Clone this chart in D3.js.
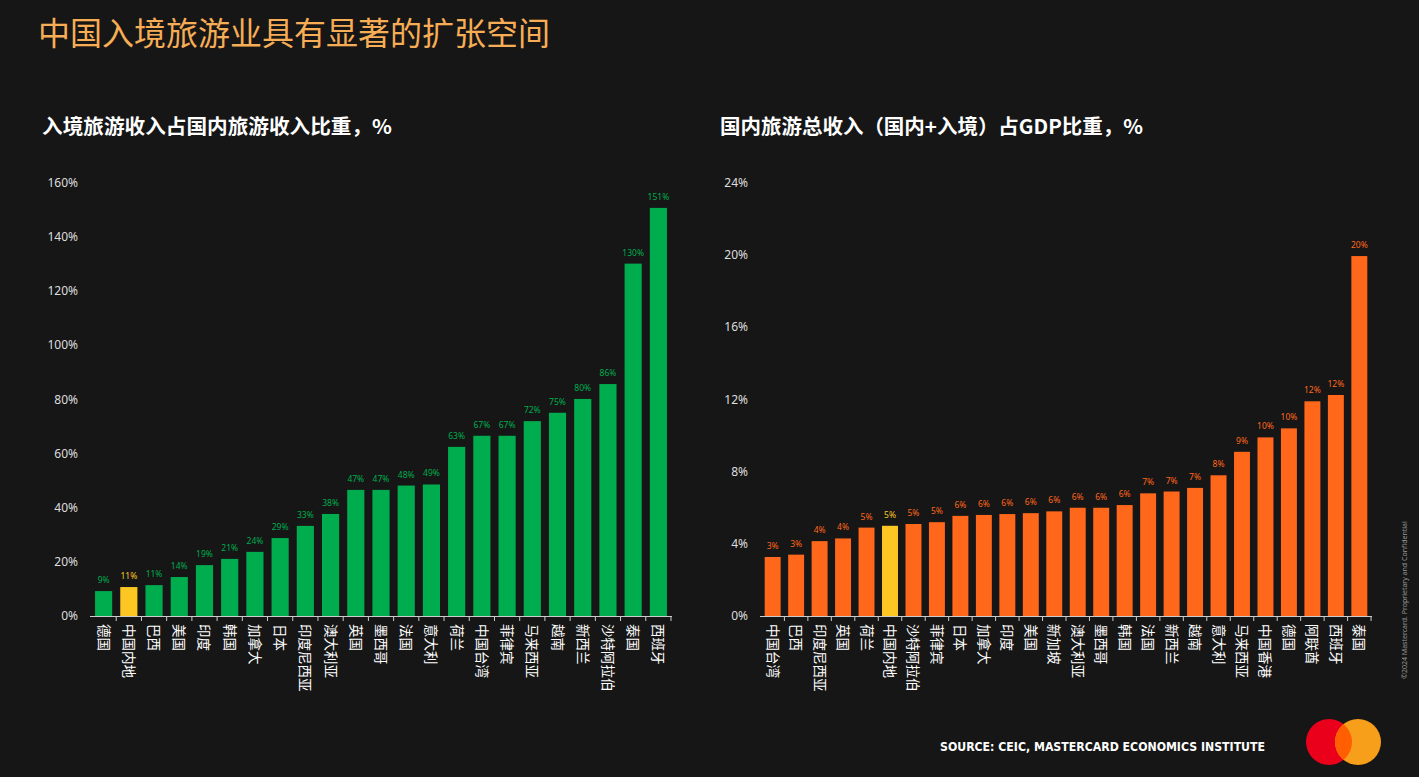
<!DOCTYPE html>
<html><head><meta charset="utf-8">
<script src="https://cdn.jsdelivr.net/npm/d3@7"></script>
<style>body{margin:0;background:#161616;font-family:"Noto Sans CJK SC","Noto Sans",sans-serif}</style>
</head><body><div id="chart"></div>
<script>
const leftCats = ["德国","中国内地","巴西","美国","印度","韩国","加拿大","日本","印度尼西亚","澳大利亚","英国","墨西哥","法国","意大利","荷兰","中国台湾","菲律宾","马来西亚","越南","新西兰","沙特阿拉伯","泰国","西班牙"];
const leftVals = [9.2,10.7,11.4,14.4,18.8,21.1,23.7,28.8,33.3,37.7,46.6,46.6,48.2,48.6,62.5,66.6,66.6,72,75.1,80.2,85.7,130.2,150.8];
const leftTicks = [0,20,40,60,80,100,120,140,160];
const rightCats = ["中国台湾","巴西","印度尼西亚","英国","荷兰","中国内地","沙特阿拉伯","菲律宾","日本","加拿大","印度","美国","新加坡","澳大利亚","墨西哥","韩国","法国","新西兰","越南","意大利","马来西亚","中国香港","德国","阿联酋","西班牙","泰国"];
const rightVals = [3.27,3.4,4.15,4.3,4.9,5.0,5.1,5.2,5.55,5.6,5.65,5.7,5.8,6.0,6.0,6.15,6.8,6.9,7.1,7.8,9.1,9.9,10.4,11.9,12.25,19.95];
const rightTicks = [0,4,8,12,16,20,24];
const highlight = "中国内地";

const W = 1419, H = 777;
const svg = d3.select("#chart").append("svg").attr("width", W).attr("height", H)
  .style("background", "#161616");

svg.append("text").attr("x", 38).attr("y", 45).attr("fill", "#f6ad55")
  .style("font-size", "32px").text("中国入境旅游业具有显著的扩张空间");

function drawPanel(cats, vals, ticks, x0, x1, color, title, tx, tw) {
  const y = d3.scaleLinear().domain([0, ticks[ticks.length - 1]]).range([616, 183]);
  const x = d3.scaleBand().domain(cats).range([x0, x1]).paddingInner(0.32).paddingOuter(0.2);

  svg.append("text").attr("x", tx).attr("y", 134).attr("fill", "#fff")
    .attr("textLength", tw).attr("lengthAdjust", "spacingAndGlyphs")
    .style("font-size", "20px").style("font-weight", "bold").text(title);

  svg.selectAll(null).data(ticks).join("text")
    .attr("x", x0 - 12).attr("y", d => y(d) + 4).attr("text-anchor", "end")
    .attr("fill", "#ddd").style("font-size", "12px").style("font-family", "Noto Sans")
    .text(d => d + "%");

  svg.append("line").attr("x1", x0).attr("x2", x1).attr("y1", 616.5).attr("y2", 616.5)
    .attr("stroke", "#ccc").attr("stroke-width", 1);

  svg.selectAll(null).data(cats).join("line")
    .attr("x1", d => x(d) + x.bandwidth() / 2 + x.step() / 2)
    .attr("x2", d => x(d) + x.bandwidth() / 2 + x.step() / 2)
    .attr("y1", 616).attr("y2", 621).attr("stroke", "#ccc");

  const g = svg.append("g");
  g.selectAll("rect").data(cats).join("rect")
    .attr("x", d => x(d)).attr("width", x.bandwidth())
    .attr("y", (d, i) => y(vals[i])).attr("height", (d, i) => 616 - y(vals[i]))
    .attr("fill", d => d === highlight ? "#fcc722" : color);

  g.selectAll("text.v").data(cats).join("text").attr("class", "v")
    .attr("x", d => x(d) + x.bandwidth() / 2).attr("y", (d, i) => y(vals[i]) - 8)
    .attr("text-anchor", "middle").style("font-size", "8.5px").style("font-family", "Noto Sans")
    .attr("fill", d => d === highlight ? "#fcc722" : color)
    .text((d, i) => Math.round(vals[i]) + "%");

  g.selectAll("text.c").data(cats).join("text").attr("class", "c")
    .attr("transform", d => `translate(${x(d) + x.bandwidth() / 2 - 5},624) rotate(90)`)
    .attr("fill", "#fff").style("font-size", "13.5px").text(d => d);
}

drawPanel(leftCats, leftVals, leftTicks, 90, 672, "#00ad4e", "入境旅游收入占国内旅游收入比重，%", 42, 350);
drawPanel(rightCats, rightVals, rightTicks, 760, 1372, "#ff671b", "国内旅游总收入（国内+入境）占GDP比重，%", 720, 423);

svg.append("text").attr("x", 940).attr("y", 751)
  .attr("textLength", 325).attr("lengthAdjust", "spacingAndGlyphs")
  .attr("fill", "#fff").style("font-size", "11.5px").style("font-weight", "bold")
  .style("font-family", "DejaVu Sans").text("SOURCE: CEIC, MASTERCARD ECONOMICS INSTITUTE");

svg.append("text").attr("transform", "translate(1407,600) rotate(-90)")
  .attr("text-anchor", "middle").attr("fill", "#999").style("font-size", "7px")
  .style("font-family", "Noto Sans").text("©2024 Mastercard. Proprietary and Confidential");

svg.append("circle").attr("cx", 1329).attr("cy", 742).attr("r", 23).attr("fill", "#eb001b");
svg.append("circle").attr("cx", 1358).attr("cy", 742).attr("r", 23).attr("fill", "#f79e1b");
svg.append("clipPath").attr("id", "cl").append("circle").attr("cx", 1329).attr("cy", 742).attr("r", 23);
svg.append("circle").attr("cx", 1358).attr("cy", 742).attr("r", 23).attr("fill", "#ff5f00").attr("clip-path", "url(#cl)");
</script></body></html>
